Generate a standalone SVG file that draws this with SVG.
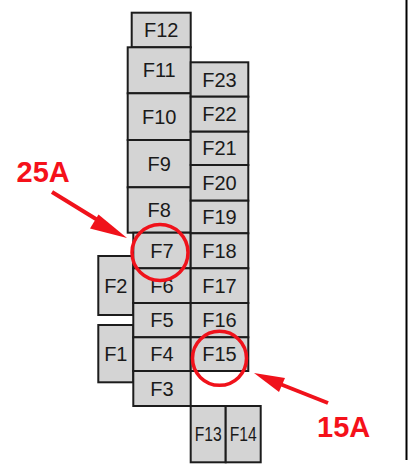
<svg xmlns="http://www.w3.org/2000/svg" width="409" height="466" viewBox="0 0 409 466">
<style>
.b{fill:#d4d4d4;stroke:#1c1c1c;stroke-width:2}
.t{font-family:"Liberation Sans",Arial,sans-serif;font-size:20px;fill:#1a1a1a;text-anchor:middle}
.r{font-family:"Liberation Sans",Arial,sans-serif;font-size:29px;font-weight:bold;fill:#f5111a}
.c{fill:none;stroke:#f0121b;stroke-width:3.5}
.a{stroke:#f0121b;stroke-width:4;fill:none}
.h{fill:#f0121b}
</style>
<rect width="409" height="466" fill="#fff"/>
<line x1="406.5" y1="0" x2="406.5" y2="460" stroke="#000" stroke-width="2"/>
<g id="F2"><rect class="b" x="98.3" y="256" width="35" height="59"/><text class="t" x="115.8" y="292.5">F2</text></g>
<g id="F1"><rect class="b" x="98.3" y="325" width="35" height="57.3"/><text class="t" x="115.8" y="360.7">F1</text></g>
<g id="F12"><rect class="b" x="131.7" y="12.7" width="59" height="34.6"/><text class="t" x="161.2" y="37">F12</text></g>
<g id="F11"><rect class="b" x="127.7" y="47.3" width="63" height="46"/><text class="t" x="159.2" y="77.3">F11</text></g>
<g id="F10"><rect class="b" x="127.7" y="93.3" width="63" height="46.7"/><text class="t" x="159.2" y="123.7">F10</text></g>
<g id="F9"><rect class="b" x="127.7" y="140" width="63" height="47.3"/><text class="t" x="159.2" y="170.6">F9</text></g>
<g id="F8"><rect class="b" x="127.7" y="187.3" width="63" height="45.4"/><text class="t" x="159.2" y="217">F8</text></g>
<g id="F7"><rect class="b" x="133.3" y="232.7" width="57.4" height="35.6"/><text class="t" x="162" y="257.5">F7</text></g>
<g id="F6"><rect class="b" x="133.3" y="268.3" width="57.4" height="34.7"/><text class="t" x="162" y="292.7">F6</text></g>
<g id="F5"><rect class="b" x="133.3" y="303" width="57.4" height="34.3"/><text class="t" x="162" y="327.2">F5</text></g>
<g id="F4"><rect class="b" x="133.3" y="337.3" width="57.4" height="33.7"/><text class="t" x="162" y="361.2">F4</text></g>
<g id="F3"><rect class="b" x="133.3" y="371" width="57.4" height="35"/><text class="t" x="162" y="395.5">F3</text></g>
<g id="F23"><rect class="b" x="190.7" y="62.3" width="57.6" height="34.4"/><text class="t" x="219.5" y="86.5">F23</text></g>
<g id="F22"><rect class="b" x="190.7" y="96.7" width="57.6" height="35"/><text class="t" x="219.5" y="121.2">F22</text></g>
<g id="F21"><rect class="b" x="190.7" y="131.7" width="57.6" height="33.3"/><text class="t" x="219.5" y="155.4">F21</text></g>
<g id="F20"><rect class="b" x="190.7" y="165" width="57.6" height="35.7"/><text class="t" x="219.5" y="189.9">F20</text></g>
<g id="F19"><rect class="b" x="190.7" y="200.7" width="57.6" height="32.6"/><text class="t" x="219.5" y="224">F19</text></g>
<g id="F18"><rect class="b" x="190.7" y="233.3" width="57.6" height="35"/><text class="t" x="219.5" y="257.8">F18</text></g>
<g id="F17"><rect class="b" x="190.7" y="268.3" width="57.6" height="34.7"/><text class="t" x="219.5" y="292.7">F17</text></g>
<g id="F16"><rect class="b" x="190.7" y="303" width="57.6" height="34.3"/><text class="t" x="219.5" y="327.2">F16</text></g>
<g id="F15"><rect class="b" x="190.7" y="337.3" width="57.6" height="33.7"/><text class="t" x="219.5" y="361.2">F15</text></g>
<g id="F13"><rect class="b" x="190.7" y="406" width="35" height="56.3"/><text class="t" x="208.2" y="441" textLength="27" lengthAdjust="spacingAndGlyphs">F13</text></g>
<g id="F14"><rect class="b" x="225.7" y="406" width="35" height="56.3"/><text class="t" x="243.2" y="441" textLength="27" lengthAdjust="spacingAndGlyphs">F14</text></g>
<g id="connectors">
<circle class="c" cx="160" cy="252.5" r="28"/>
<circle class="c" cx="219.5" cy="358.3" r="27"/>
<line class="a" x1="52" y1="192" x2="100" y2="221.5"/>
<polygon class="h" points="127,238 90,228.5 98.5,214.5"/>
<line class="a" x1="328" y1="403" x2="280" y2="384"/>
<polygon class="h" points="254,373 285,378 279,392"/>
</g>
<text class="r" x="16.5" y="182.3">25A</text>
<text class="r" x="317" y="437.3">15A</text>
</svg>
